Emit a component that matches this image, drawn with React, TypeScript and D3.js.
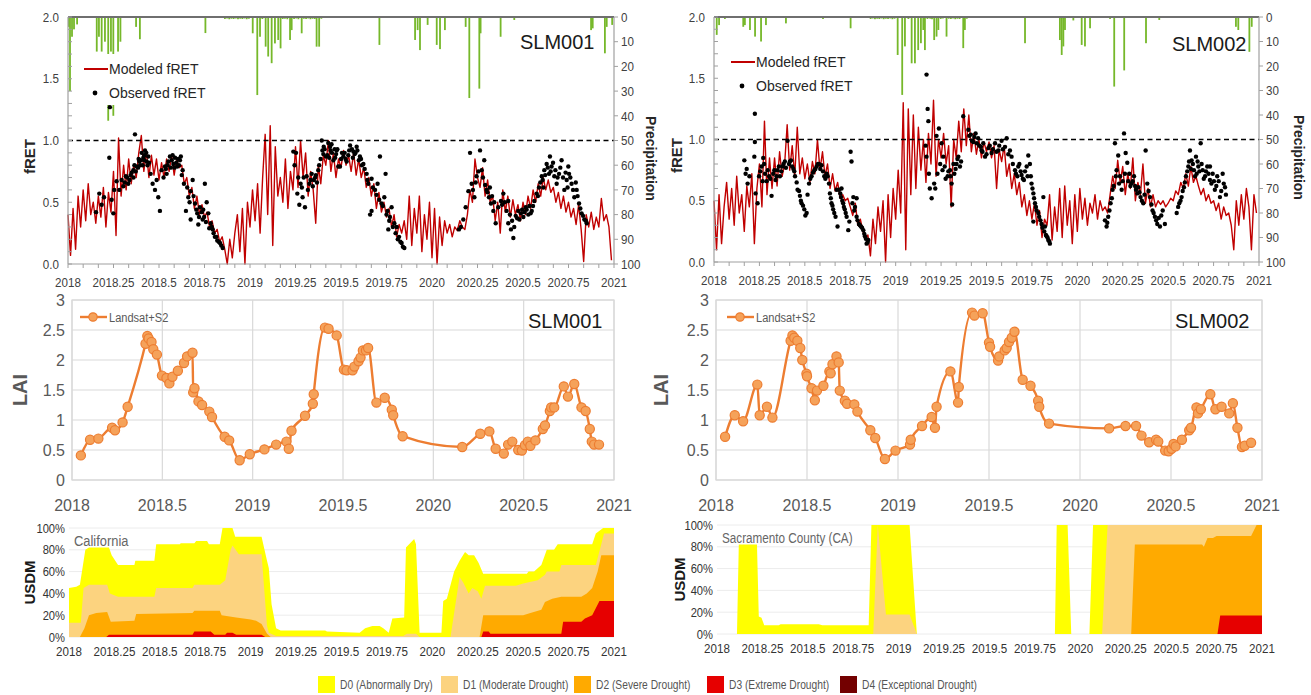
import React from 'react';
import * as d3 from 'd3';

// ---------------- fRET, modeled (5-day steps, six per month, Jan 2018 – Dec 2020) ----------------
const modeledSLM001: number[] = [
  0.40, 0.07, 0.45, 0.12, 0.55, 0.30, 0.60, 0.35, 0.65, 0.40, 0.50, 0.33,
  0.55, 0.38, 0.62, 0.30, 0.58, 0.42, 0.75, 0.23, 1.02, 0.55, 0.80, 0.60,
  0.85, 0.65, 0.80, 0.70, 0.90, 1.04, 0.75, 0.92, 0.70, 0.88, 0.72, 0.85,
  0.68, 0.82, 0.70, 0.85, 0.75, 0.88, 0.72, 0.85, 0.78, 0.80, 0.65, 0.70,
  0.55, 0.62, 0.45, 0.55, 0.40, 0.48, 0.38, 0.42, 0.30, 0.35, 0.25, 0.28,
  0.18, 0.22, 0.12, 0.00, 0.20, 0.05, 0.25, 0.40, 0.10, 0.45, 0.00, 0.50,
  0.30, 0.60, 0.35, 0.65, 0.25, 0.70, 1.05, 0.40, 1.12, 0.15, 0.95, 0.55,
  0.70, 0.50, 0.85, 0.45, 0.75, 0.60, 0.95, 0.62, 1.00, 0.70, 0.90, 0.55,
  0.75, 0.60, 0.33, 0.80, 0.65, 0.88, 0.80, 1.00, 0.75, 0.90, 0.70, 0.85,
  0.78, 0.92, 0.80, 0.88, 0.75, 0.90, 0.72, 0.85, 0.70, 0.78, 0.62, 0.70,
  0.55, 0.65, 0.45, 0.58, 0.42, 0.50, 0.38, 0.45, 0.30, 0.40, 0.22, 0.32,
  0.25, 0.35, 0.20, 0.55, 0.15, 0.45, 0.25, 0.55, 0.10, 0.40, 0.20, 0.50,
  0.05, 0.45, 0.00, 0.38, 0.15, 0.35, 0.25, 0.32, 0.22, 0.30, 0.27, 0.35,
  0.30, 0.28, 0.40, 0.60, 0.50, 0.85, 0.70, 0.62, 0.78, 0.55, 0.68, 0.50,
  0.55, 0.35, 0.50, 0.25, 0.60, 0.42, 0.55, 0.38, 0.52, 0.40, 0.48, 0.35,
  0.50, 0.40, 0.55, 0.45, 0.60, 0.50, 0.65, 0.55, 0.70, 0.60, 0.68, 0.58,
  0.62, 0.50, 0.58, 0.45, 0.55, 0.42, 0.50, 0.38, 0.45, 0.32, 0.48, 0.28,
  0.02, 0.40, 0.30, 0.42, 0.28, 0.38, 0.30, 0.53, 0.35, 0.40, 0.30, 0.03,
];

const modeledSLM002: number[] = [
  0.50, 0.10, 0.55, 0.15, 0.45, 0.65, 0.35, 0.60, 0.30, 0.70, 0.40, 0.55,
  0.25, 0.62, 0.45, 0.72, 0.15, 0.60, 0.80, 0.45, 1.15, 0.55, 0.85, 0.60,
  0.85, 0.62, 0.90, 0.70, 0.80, 1.12, 0.75, 0.95, 0.70, 1.10, 0.72, 0.85,
  0.68, 0.80, 0.65, 0.82, 0.72, 1.00, 0.75, 0.90, 0.70, 0.80, 0.60, 0.72,
  0.58, 0.65, 0.52, 0.55, 0.50, 0.52, 0.45, 0.38, 0.48, 0.30, 0.35, 0.25,
  0.20, 0.22, 0.05, 0.35, 0.15, 0.45, 0.25, 0.50, 0.00, 0.55, 0.20, 0.60,
  0.35, 0.75, 0.40, 1.30, 0.10, 1.25, 0.55, 1.20, 0.60, 1.10, 0.75, 1.00,
  0.65, 1.05, 0.80, 1.32, 0.70, 1.00, 0.85, 1.05, 0.80, 0.95, 0.45, 1.00,
  0.85, 1.15, 0.90, 1.25, 0.95, 1.20, 0.90, 1.05, 0.88, 1.00, 0.85, 0.98,
  0.90, 0.98, 0.85, 0.95, 0.60, 0.92, 0.82, 0.95, 0.70, 0.80, 0.60, 0.72,
  0.55, 0.65, 0.45, 0.55, 0.38, 0.50, 0.35, 0.48, 0.30, 0.42, 0.20, 0.35,
  0.30, 0.55, 0.18, 0.45, 0.25, 0.60, 0.20, 0.62, 0.30, 0.50, 0.15, 0.55,
  0.25, 0.60, 0.35, 0.52, 0.30, 0.48, 0.40, 0.55, 0.35, 0.50, 0.42, 0.45,
  0.40, 0.55, 0.70, 0.60, 0.83, 0.65, 0.78, 0.55, 0.72, 0.60, 0.85, 0.50,
  0.65, 0.55, 0.80, 0.48, 0.60, 0.45, 0.55, 0.45, 0.50, 0.47, 0.50, 0.45,
  0.48, 0.52, 0.50, 0.58, 0.55, 0.65, 0.60, 0.72, 0.62, 0.78, 0.65, 0.70,
  0.62, 0.55, 0.60, 0.50, 0.55, 0.48, 0.50, 0.42, 0.48, 0.35, 0.45, 0.38,
  0.40, 0.30, 0.10, 0.50, 0.30, 0.55, 0.35, 0.60, 0.45, 0.10, 0.55, 0.40,
];

// ---------------- fRET, observed [decimal year, fRET] ----------------
const observedSLM001: [number, number][] = [
  [2018.154, 0.42], [2018.172, 0.57], [2018.185, 0.48], [2018.198, 0.54], [2018.227, 0.86], [2018.23, 1.27],
  [2018.24, 0.52], [2018.249, 0.41], [2018.254, 0.60], [2018.267, 0.67], [2018.282, 0.60], [2018.295, 0.68],
  [2018.304, 0.63], [2018.318, 0.71], [2018.331, 0.65], [2018.344, 0.72], [2018.359, 0.76], [2018.368, 1.05],
  [2018.377, 0.79], [2018.392, 0.83], [2018.405, 0.90], [2018.414, 0.86], [2018.423, 0.92], [2018.432, 0.83],
  [2018.441, 0.87], [2018.36, 0.70], [2018.385, 0.78], [2018.40, 0.84], [2018.41, 0.80], [2018.42, 0.88],
  [2018.43, 0.90], [2018.454, 0.73], [2018.465, 0.65], [2018.478, 0.60], [2018.487, 0.68], [2018.496, 0.54],
  [2018.505, 0.43], [2018.514, 0.76], [2018.533, 0.79], [2018.542, 0.73], [2018.551, 0.83], [2018.56, 0.87],
  [2018.57, 0.84], [2018.579, 0.81], [2018.588, 0.86], [2018.595, 0.82], [2018.60, 0.79], [2018.605, 0.85],
  [2018.615, 0.84], [2018.63, 0.76], [2018.637, 0.65], [2018.648, 0.43], [2018.661, 0.54], [2018.674, 0.36],
  [2018.674, 0.59], [2018.685, 0.68], [2018.698, 0.49], [2018.71, 0.41], [2018.716, 0.32], [2018.725, 0.46],
  [2018.74, 0.36], [2018.743, 0.44], [2018.752, 0.65], [2018.762, 0.50], [2018.771, 0.41], [2018.776, 0.29],
  [2018.784, 0.33], [2018.795, 0.28], [2018.807, 0.22], [2018.82, 0.19], [2018.835, 0.17], [2018.85, 0.13],
  [2018.312, 0.66], [2018.325, 0.70], [2018.338, 0.68], [2018.35, 0.74], [2018.365, 0.80], [2018.372, 0.75],
  [2018.388, 0.85], [2018.396, 0.80], [2018.418, 0.84], [2018.437, 0.80], [2018.445, 0.82], [2018.525, 0.70],
  [2018.538, 0.77], [2018.547, 0.80], [2018.565, 0.78], [2018.575, 0.88], [2018.585, 0.78], [2018.61, 0.80],
  [2018.62, 0.87], [2018.625, 0.72], [2018.655, 0.62], [2018.668, 0.50], [2018.69, 0.55], [2018.705, 0.44],
  [2018.72, 0.38], [2018.735, 0.42], [2018.748, 0.38], [2018.758, 0.34], [2018.79, 0.30], [2018.80, 0.25],
  [2018.815, 0.22], [2018.828, 0.18], [2018.842, 0.15],
  [2019.238, 0.91], [2019.253, 0.90], [2019.26, 0.57], [2019.271, 0.48], [2019.278, 0.65], [2019.289, 0.54],
  [2019.302, 0.46], [2019.311, 0.71], [2019.326, 0.65], [2019.339, 0.73], [2019.351, 0.68], [2019.362, 0.72],
  [2019.375, 0.76], [2019.394, 1.00], [2019.403, 0.89], [2019.41, 0.93], [2019.417, 0.87], [2019.425, 0.88],
  [2019.43, 0.98], [2019.44, 0.95], [2019.443, 0.92], [2019.45, 0.90], [2019.458, 0.84], [2019.465, 0.93],
  [2019.473, 0.89], [2019.476, 0.92], [2019.485, 0.79], [2019.494, 0.79], [2019.50, 0.85], [2019.513, 0.87],
  [2019.52, 0.90], [2019.531, 0.83], [2019.54, 0.88], [2019.55, 0.96], [2019.56, 0.93], [2019.568, 0.91],
  [2019.575, 0.89], [2019.586, 0.95], [2019.59, 0.92], [2019.604, 0.87], [2019.61, 0.85], [2019.623, 0.81],
  [2019.641, 0.73], [2019.65, 0.65], [2019.66, 0.40], [2019.668, 0.69], [2019.668, 0.43], [2019.687, 0.60],
  [2019.701, 0.65], [2019.714, 0.87], [2019.723, 0.49], [2019.738, 0.54], [2019.745, 0.73], [2019.756, 0.43],
  [2019.76, 0.28], [2019.769, 0.38], [2019.778, 0.46], [2019.793, 0.33], [2019.806, 0.30], [2019.819, 0.22],
  [2019.833, 0.17], [2019.848, 0.13],
  [2019.245, 0.80], [2019.265, 0.70], [2019.285, 0.62], [2019.295, 0.70], [2019.318, 0.60], [2019.332, 0.68],
  [2019.345, 0.63], [2019.358, 0.70], [2019.368, 0.66], [2019.38, 0.80], [2019.388, 0.85], [2019.398, 0.92],
  [2019.405, 0.95], [2019.435, 0.86], [2019.448, 0.97], [2019.468, 0.86], [2019.48, 0.93], [2019.505, 0.90],
  [2019.525, 0.85], [2019.545, 0.92], [2019.565, 0.86], [2019.58, 0.90], [2019.598, 0.84], [2019.615, 0.80],
  [2019.63, 0.77], [2019.645, 0.68], [2019.675, 0.62], [2019.695, 0.56], [2019.71, 0.52], [2019.73, 0.47],
  [2019.75, 0.40], [2019.765, 0.35], [2019.785, 0.30], [2019.80, 0.25], [2019.812, 0.20], [2019.826, 0.18],
  [2019.84, 0.14],
  [2020.148, 0.28], [2020.159, 0.30], [2020.172, 0.36], [2020.185, 0.46], [2020.20, 0.59], [2020.209, 0.90],
  [2020.218, 0.65], [2020.233, 0.54], [2020.245, 0.71], [2020.264, 0.92], [2020.273, 0.76], [2020.287, 0.84],
  [2020.30, 0.60], [2020.313, 0.54], [2020.324, 0.49], [2020.337, 0.43], [2020.35, 0.33], [2020.364, 0.46],
  [2020.379, 0.51], [2020.392, 0.57], [2020.41, 0.43], [2020.419, 0.33], [2020.419, 0.51], [2020.434, 0.28],
  [2020.447, 0.21], [2020.46, 0.39], [2020.474, 0.43], [2020.489, 0.41], [2020.502, 0.38], [2020.515, 0.46],
  [2020.529, 0.40], [2020.548, 0.43], [2020.562, 0.51], [2020.575, 0.57], [2020.588, 0.62], [2020.603, 0.71],
  [2020.612, 0.62], [2020.617, 0.76], [2020.63, 0.81], [2020.643, 0.73], [2020.648, 0.87], [2020.657, 0.79],
  [2020.672, 0.71], [2020.685, 0.65], [2020.698, 0.73], [2020.712, 0.84], [2020.727, 0.60], [2020.74, 0.68],
  [2020.749, 0.79], [2020.753, 0.73], [2020.767, 0.65], [2020.782, 0.54], [2020.795, 0.60], [2020.808, 0.49],
  [2020.822, 0.41], [2020.837, 0.36], [2020.85, 0.33],
  [2020.225, 0.60], [2020.24, 0.66], [2020.255, 0.75], [2020.28, 0.70], [2020.292, 0.64], [2020.305, 0.58],
  [2020.318, 0.62], [2020.33, 0.55], [2020.342, 0.50], [2020.385, 0.48], [2020.40, 0.50], [2020.428, 0.40],
  [2020.44, 0.35], [2020.452, 0.30], [2020.468, 0.37], [2020.48, 0.36], [2020.495, 0.44], [2020.508, 0.42],
  [2020.52, 0.44], [2020.535, 0.47], [2020.542, 0.41], [2020.555, 0.47], [2020.582, 0.55], [2020.595, 0.66],
  [2020.608, 0.68], [2020.622, 0.72], [2020.636, 0.78], [2020.652, 0.75], [2020.665, 0.82], [2020.678, 0.76],
  [2020.69, 0.70], [2020.705, 0.78], [2020.72, 0.70], [2020.734, 0.74], [2020.745, 0.62], [2020.76, 0.70],
  [2020.775, 0.60], [2020.79, 0.66], [2020.80, 0.55], [2020.815, 0.45], [2020.83, 0.39], [2020.845, 0.35],
];

const observedSLM002: [number, number][] = [
  [2018.167, 0.83], [2018.174, 0.72], [2018.185, 0.64], [2018.225, 1.21], [2018.225, 0.98], [2018.222, 0.86],
  [2018.229, 0.56], [2018.24, 0.48], [2018.248, 0.70], [2018.262, 0.78], [2018.271, 0.85], [2018.281, 0.72],
  [2018.29, 0.66], [2018.303, 0.70], [2018.317, 0.54], [2018.326, 0.72], [2018.339, 0.67], [2018.35, 0.75],
  [2018.363, 0.70], [2018.376, 0.78], [2018.39, 0.82], [2018.405, 0.99], [2018.413, 0.80], [2018.424, 0.83],
  [2018.437, 0.76], [2018.446, 0.70], [2018.46, 0.59], [2018.473, 0.54], [2018.482, 0.48], [2018.497, 0.43],
  [2018.51, 0.40], [2018.523, 0.64], [2018.537, 0.70], [2018.552, 0.75], [2018.565, 0.78], [2018.578, 0.80],
  [2018.592, 0.79], [2018.607, 0.70], [2018.62, 0.72], [2018.633, 0.64], [2018.638, 0.56], [2018.647, 0.48],
  [2018.656, 0.43], [2018.669, 0.37], [2018.675, 0.59], [2018.68, 0.29], [2018.688, 0.59], [2018.699, 0.53],
  [2018.702, 0.60], [2018.711, 0.48], [2018.72, 0.43], [2018.73, 0.37], [2018.739, 0.26], [2018.752, 0.90],
  [2018.757, 0.82], [2018.767, 0.53], [2018.776, 0.45], [2018.785, 0.37], [2018.785, 0.52], [2018.798, 0.31],
  [2018.809, 0.29], [2018.822, 0.26], [2018.831, 0.21], [2018.84, 0.15], [2018.849, 0.18],
  [2018.18, 0.76], [2018.195, 0.70], [2018.255, 0.74], [2018.268, 0.66], [2018.276, 0.80], [2018.296, 0.75],
  [2018.31, 0.68], [2018.332, 0.75], [2018.344, 0.70], [2018.357, 0.78], [2018.37, 0.74], [2018.383, 0.80],
  [2018.396, 0.77], [2018.418, 0.82], [2018.43, 0.78], [2018.442, 0.74], [2018.455, 0.65], [2018.468, 0.58],
  [2018.478, 0.50], [2018.49, 0.46], [2018.503, 0.38], [2018.515, 0.55], [2018.53, 0.68], [2018.545, 0.73],
  [2018.558, 0.76], [2018.572, 0.80], [2018.585, 0.76], [2018.60, 0.74], [2018.613, 0.68], [2018.626, 0.70],
  [2018.643, 0.52], [2018.652, 0.46], [2018.662, 0.40], [2018.695, 0.56], [2018.706, 0.50], [2018.715, 0.45],
  [2018.725, 0.40], [2018.745, 0.33], [2018.762, 0.48], [2018.772, 0.42], [2018.79, 0.34], [2018.803, 0.30],
  [2018.815, 0.28], [2018.827, 0.23], [2018.836, 0.19], [2018.845, 0.16],
  [2019.165, 0.95], [2019.17, 1.53], [2019.17, 0.86], [2019.176, 1.25], [2019.18, 1.15], [2019.183, 0.72],
  [2019.188, 0.60], [2019.198, 0.52], [2019.212, 0.64], [2019.225, 1.03], [2019.238, 1.09], [2019.253, 0.97],
  [2019.262, 0.86], [2019.27, 0.78], [2019.286, 0.70], [2019.299, 0.75], [2019.308, 0.64], [2019.311, 0.47],
  [2019.323, 0.72], [2019.335, 0.80], [2019.345, 0.86], [2019.354, 0.78], [2019.372, 1.19], [2019.40, 1.08],
  [2019.414, 1.04], [2019.427, 0.98], [2019.44, 1.05], [2019.454, 1.01], [2019.469, 0.94], [2019.473, 0.91],
  [2019.482, 0.97], [2019.492, 0.86], [2019.51, 0.93], [2019.528, 0.89], [2019.547, 0.97], [2019.565, 0.91],
  [2019.583, 0.99], [2019.602, 0.94], [2019.611, 1.01], [2019.629, 0.91], [2019.638, 0.86], [2019.657, 0.75],
  [2019.67, 0.70], [2019.681, 0.80], [2019.693, 0.71], [2019.706, 0.67], [2019.721, 0.78], [2019.73, 0.87],
  [2019.739, 0.80], [2019.748, 0.64], [2019.758, 0.56], [2019.758, 0.33], [2019.767, 0.48], [2019.776, 0.42],
  [2019.79, 0.37], [2019.803, 0.31], [2019.813, 0.53], [2019.822, 0.29], [2019.831, 0.21], [2019.84, 0.18],
  [2019.849, 0.15],
  [2019.218, 0.60], [2019.23, 0.72], [2019.245, 0.80], [2019.258, 0.75], [2019.275, 0.68], [2019.29, 0.74],
  [2019.303, 0.70], [2019.318, 0.80], [2019.33, 0.76], [2019.34, 0.84], [2019.36, 0.82], [2019.405, 1.03],
  [2019.42, 0.99], [2019.433, 1.02], [2019.447, 0.97], [2019.46, 0.95], [2019.478, 0.90], [2019.50, 0.88],
  [2019.518, 0.95], [2019.535, 0.92], [2019.555, 0.90], [2019.57, 0.95], [2019.59, 0.92], [2019.62, 0.88],
  [2019.645, 0.80], [2019.662, 0.72], [2019.675, 0.78], [2019.688, 0.74], [2019.70, 0.68], [2019.712, 0.74],
  [2019.726, 0.70], [2019.744, 0.70], [2019.753, 0.60], [2019.762, 0.52], [2019.772, 0.45], [2019.785, 0.40],
  [2019.797, 0.34], [2019.808, 0.28], [2019.818, 0.25], [2019.827, 0.22], [2019.836, 0.20], [2019.845, 0.17],
  [2020.152, 0.34], [2020.161, 0.29], [2020.17, 0.37], [2020.183, 0.48], [2020.194, 0.59], [2020.207, 0.97],
  [2020.216, 0.75], [2020.225, 0.87], [2020.235, 0.70], [2020.244, 0.59], [2020.257, 1.05], [2020.266, 0.89],
  [2020.275, 0.81], [2020.286, 0.72], [2020.299, 0.64], [2020.312, 0.70], [2020.323, 0.59], [2020.336, 0.61],
  [2020.348, 0.53], [2020.363, 0.48], [2020.376, 0.91], [2020.385, 0.64], [2020.40, 0.53], [2020.414, 0.42],
  [2020.427, 0.37], [2020.44, 0.31], [2020.455, 0.29], [2020.47, 0.42], [2020.482, 0.31], [2020.547, 0.40],
  [2020.561, 0.48], [2020.574, 0.53], [2020.587, 0.61], [2020.598, 0.70], [2020.611, 0.78], [2020.62, 0.91],
  [2020.629, 0.83], [2020.642, 0.75], [2020.653, 0.86], [2020.657, 0.72], [2020.666, 0.78], [2020.679, 0.97],
  [2020.69, 0.75], [2020.703, 0.70], [2020.715, 0.78], [2020.73, 0.67], [2020.73, 0.78], [2020.745, 0.72],
  [2020.757, 0.59], [2020.77, 0.70], [2020.785, 0.53], [2020.80, 0.72], [2020.813, 0.61],
  [2020.165, 0.32], [2020.177, 0.42], [2020.19, 0.52], [2020.20, 0.62], [2020.212, 0.70], [2020.23, 0.64],
  [2020.25, 0.66], [2020.262, 0.72], [2020.28, 0.66], [2020.292, 0.62], [2020.305, 0.66], [2020.318, 0.62],
  [2020.33, 0.56], [2020.342, 0.57], [2020.355, 0.50], [2020.37, 0.55], [2020.392, 0.58], [2020.408, 0.47],
  [2020.42, 0.40], [2020.434, 0.34], [2020.448, 0.36], [2020.462, 0.38], [2020.555, 0.45], [2020.568, 0.50],
  [2020.58, 0.58], [2020.592, 0.65], [2020.605, 0.74], [2020.615, 0.82], [2020.625, 0.76], [2020.636, 0.80],
  [2020.648, 0.70], [2020.662, 0.82], [2020.672, 0.74], [2020.684, 0.80], [2020.696, 0.68], [2020.708, 0.74],
  [2020.722, 0.72], [2020.738, 0.64], [2020.752, 0.66], [2020.765, 0.62], [2020.778, 0.66], [2020.792, 0.58],
  [2020.806, 0.64], [2020.818, 0.55],
];

// ---------------- daily precipitation, mm [decimal year, mm] ----------------
const precipSLM001: [number, number][] = [
  [2018.005, 4], [2018.011, 30], [2018.022, 8], [2018.033, 5], [2018.05, 3],
  [2018.158, 14], [2018.17, 8], [2018.185, 14], [2018.203, 10], [2018.221, 42], [2018.236, 14],
  [2018.249, 40], [2018.275, 14], [2018.288, 10], [2018.374, 4], [2018.395, 9], [2018.755, 6.5],
  [2018.862, 0.8], [2018.874, 0.6], [2018.886, 0.9], [2018.898, 0.7], [2018.91, 0.8], [2018.922, 0.6],
  [2018.934, 0.9], [2018.946, 0.7], [2018.958, 0.8], [2018.97, 0.6], [2018.982, 0.9], [2018.994, 0.7],
  [2019.015, 6.6], [2019.04, 31.6], [2019.055, 8], [2019.068, 0.8], [2019.086, 12], [2019.1, 16],
  [2019.119, 18.7], [2019.137, 10.7], [2019.155, 9.3], [2019.168, 12.7], [2019.18, 0.8], [2019.192, 0.7],
  [2019.205, 0.9], [2019.22, 9.3], [2019.229, 5.3], [2019.242, 0.8], [2019.254, 0.6], [2019.266, 0.9],
  [2019.284, 6.6], [2019.296, 0.7], [2019.308, 0.8], [2019.32, 0.6], [2019.332, 0.9], [2019.344, 0.7],
  [2019.356, 0.8], [2019.366, 12], [2019.38, 12], [2019.392, 0.7],
  [2019.711, 11.3], [2019.907, 9.3], [2019.921, 5.3], [2019.934, 13.4], [2019.976, 3.2], [2020.026, 11.3],
  [2020.044, 13], [2020.071, 5.3], [2020.185, 4], [2020.205, 32.8], [2020.26, 29], [2020.267, 6.6],
  [2020.377, 8], [2020.452, 1.2], [2020.874, 5.3], [2020.883, 4.6], [2020.95, 14.7], [2020.96, 4],
  [2020.99, 3.2],
];

const precipSLM002: [number, number][] = [
  [2018.015, 7.3], [2018.028, 3.3], [2018.06, 0.8], [2018.161, 4], [2018.17, 3.3], [2018.198, 5.3],
  [2018.226, 8], [2018.259, 10], [2018.286, 3.3], [2018.396, 2.6], [2018.60, 0.8], [2018.752, 4.6],
  [2018.862, 0.8], [2018.874, 0.6], [2018.886, 0.9], [2018.898, 0.7], [2018.91, 0.8], [2018.922, 0.6],
  [2018.934, 0.9], [2018.946, 0.7], [2018.958, 0.8], [2018.97, 0.6], [2018.982, 0.9], [2018.994, 0.7],
  [2019.011, 15.5], [2019.036, 31.8], [2019.051, 12], [2019.07, 0.8], [2019.088, 18.9], [2019.106, 18.9],
  [2019.124, 13.5], [2019.139, 10.7], [2019.152, 5.3], [2019.161, 13.5], [2019.175, 0.8], [2019.19, 0.7],
  [2019.2, 0.9], [2019.212, 9.4], [2019.225, 8], [2019.235, 5.3], [2019.248, 0.8], [2019.26, 0.6],
  [2019.28, 8], [2019.292, 0.7], [2019.304, 0.8], [2019.316, 0.6], [2019.328, 0.9], [2019.34, 0.7],
  [2019.352, 0.8], [2019.372, 12.7], [2019.381, 5.3], [2019.392, 0.7],
  [2019.712, 10.7], [2019.904, 9.4], [2019.914, 15.5], [2019.923, 12], [2019.932, 5.3], [2019.978, 1.4],
  [2020.024, 11.4], [2020.042, 12], [2020.07, 4.6], [2020.18, 0.8], [2020.203, 28.4], [2020.258, 21.8],
  [2020.378, 10.7], [2020.451, 1.2], [2020.873, 4], [2020.886, 5.3], [2020.947, 14.2], [2020.96, 4],
];

// ---------------- LAI, Landsat+S2 [decimal year, LAI] ----------------
const laiSLM001: [number, number][] = [
  [2018.049, 0.41], [2018.10, 0.67], [2018.146, 0.69], [2018.222, 0.87], [2018.238, 0.83], [2018.28, 0.96],
  [2018.308, 1.22], [2018.407, 2.27], [2018.417, 2.40], [2018.424, 2.36], [2018.44, 2.30], [2018.45, 2.18],
  [2018.47, 2.09], [2018.498, 1.74], [2018.523, 1.70], [2018.539, 1.61], [2018.556, 1.72], [2018.586, 1.82],
  [2018.62, 1.95], [2018.637, 2.06], [2018.667, 2.12], [2018.671, 1.46], [2018.678, 1.53], [2018.70, 1.31],
  [2018.72, 1.25], [2018.76, 1.14], [2018.775, 1.05], [2018.845, 0.72], [2018.87, 0.66], [2018.928, 0.33],
  [2018.984, 0.43], [2019.065, 0.51], [2019.13, 0.59], [2019.187, 0.64], [2019.20, 0.52], [2019.215, 0.82],
  [2019.29, 1.07], [2019.333, 1.27], [2019.338, 1.43], [2019.40, 2.54], [2019.42, 2.52], [2019.465, 2.41],
  [2019.505, 1.84], [2019.52, 1.83], [2019.553, 1.83], [2019.563, 1.89], [2019.586, 1.98], [2019.597, 2.04],
  [2019.61, 2.16], [2019.627, 2.16], [2019.639, 2.20], [2019.685, 1.29], [2019.731, 1.37], [2019.77, 1.17],
  [2019.778, 1.08], [2019.83, 0.73], [2020.16, 0.55], [2020.26, 0.77], [2020.31, 0.81], [2020.345, 0.52],
  [2020.39, 0.44], [2020.414, 0.59], [2020.437, 0.64], [2020.47, 0.50], [2020.49, 0.49], [2020.507, 0.58],
  [2020.523, 0.64], [2020.537, 0.57], [2020.565, 0.66], [2020.606, 0.85], [2020.618, 0.91], [2020.645, 1.15],
  [2020.652, 1.21], [2020.669, 1.21], [2020.722, 1.56], [2020.745, 1.39], [2020.78, 1.60], [2020.82, 1.21],
  [2020.843, 1.15], [2020.866, 0.85], [2020.877, 0.64], [2020.89, 0.59], [2020.917, 0.59],
];

const laiSLM002: [number, number][] = [
  [2018.05, 0.72], [2018.103, 1.08], [2018.149, 0.98], [2018.227, 1.59], [2018.24, 1.08], [2018.28, 1.22],
  [2018.31, 1.04], [2018.41, 2.32], [2018.42, 2.41], [2018.43, 2.37], [2018.447, 2.32], [2018.463, 2.20],
  [2018.474, 2.00], [2018.497, 1.77], [2018.50, 1.73], [2018.525, 1.53], [2018.543, 1.33], [2018.555, 1.49],
  [2018.59, 1.57], [2018.623, 1.81], [2018.63, 1.78], [2018.64, 1.93], [2018.662, 2.06], [2018.674, 1.96],
  [2018.68, 1.49], [2018.708, 1.32], [2018.72, 1.27], [2018.76, 1.26], [2018.777, 1.14], [2018.848, 0.83],
  [2018.875, 0.70], [2018.928, 0.35], [2018.986, 0.49], [2019.066, 0.59], [2019.07, 0.67], [2019.132, 0.90],
  [2019.185, 1.05], [2019.203, 0.87], [2019.212, 1.22], [2019.288, 1.81], [2019.33, 1.29], [2019.334, 1.55],
  [2019.407, 2.79], [2019.42, 2.74], [2019.465, 2.78], [2019.50, 2.29], [2019.506, 2.22], [2019.55, 1.99],
  [2019.556, 2.06], [2019.586, 2.16], [2019.597, 2.20], [2019.61, 2.30], [2019.625, 2.37], [2019.64, 2.47],
  [2019.685, 1.67], [2019.728, 1.57], [2019.77, 1.32], [2019.776, 1.22], [2019.83, 0.94], [2020.16, 0.86],
  [2020.25, 0.90], [2020.308, 0.90], [2020.338, 0.74], [2020.38, 0.63], [2020.418, 0.67], [2020.43, 0.64],
  [2020.468, 0.49], [2020.487, 0.48], [2020.503, 0.52], [2020.514, 0.60], [2020.525, 0.56], [2020.56, 0.67],
  [2020.60, 0.83], [2020.61, 0.87], [2020.64, 1.21], [2020.648, 1.11], [2020.664, 1.18], [2020.716, 1.43],
  [2020.744, 1.18], [2020.778, 1.22], [2020.82, 1.11], [2020.84, 1.28], [2020.865, 0.87], [2020.89, 0.55],
  [2020.905, 0.57], [2020.94, 0.62],
];

// ---------------- US Drought Monitor, cumulative % area [decimal year, %] ----------------
const caD0: [number, number][] = [
  [2018.0, 45], [2018.04, 46], [2018.06, 48], [2018.09, 80], [2018.11, 82], [2018.22, 82], [2018.235, 75],
  [2018.27, 66], [2018.36, 66], [2018.365, 70], [2018.47, 70], [2018.48, 85], [2018.61, 85], [2018.615, 86],
  [2018.69, 86], [2018.70, 88], [2018.76, 88], [2018.77, 85], [2018.83, 85], [2018.845, 100], [2018.90, 100],
  [2018.915, 92], [2019.06, 92], [2019.09, 70], [2019.10, 63], [2019.115, 30], [2019.14, 8], [2019.165, 6],
  [2019.41, 6], [2019.42, 5], [2019.60, 4], [2019.63, 8], [2019.67, 10], [2019.71, 10], [2019.73, 8],
  [2019.76, 4], [2019.78, 17], [2019.845, 18], [2019.855, 82], [2019.90, 90], [2019.91, 85], [2019.93, 4],
  [2020.05, 4], [2020.06, 33], [2020.08, 35], [2020.12, 60], [2020.15, 70], [2020.18, 78], [2020.20, 75],
  [2020.23, 75], [2020.255, 68], [2020.28, 58], [2020.52, 58], [2020.53, 60], [2020.56, 60], [2020.60, 66],
  [2020.63, 80], [2020.67, 80], [2020.69, 85], [2020.88, 85], [2020.90, 95], [2020.94, 100], [2021.0, 100],
];
const caD1: [number, number][] = [
  [2018.0, 13], [2018.065, 13], [2018.08, 45], [2018.11, 48], [2018.21, 48], [2018.225, 40], [2018.27, 37],
  [2018.47, 37], [2018.48, 45], [2018.68, 45], [2018.69, 48], [2018.83, 48], [2018.86, 52], [2018.89, 80],
  [2018.90, 84], [2018.935, 76], [2019.06, 76], [2019.09, 10], [2019.10, 4], [2019.14, 1], [2019.84, 1],
  [2019.86, 3], [2019.91, 3], [2019.93, 0], [2020.10, 0], [2020.15, 55], [2020.17, 50], [2020.20, 40],
  [2020.22, 45], [2020.25, 42], [2020.27, 35], [2020.29, 47], [2020.46, 47], [2020.50, 49], [2020.58, 52],
  [2020.62, 57], [2020.63, 60], [2020.70, 60], [2020.71, 66], [2020.90, 66], [2020.93, 85], [2020.945, 95],
  [2021.0, 95],
];
const caD2: [number, number][] = [
  [2018.0, 0], [2018.06, 0], [2018.085, 8], [2018.11, 20], [2018.15, 22], [2018.21, 23], [2018.23, 14],
  [2018.36, 15], [2018.37, 21], [2018.68, 22], [2018.69, 24], [2018.83, 24], [2018.84, 20], [2018.92, 18],
  [2019.0, 16], [2019.03, 15], [2019.06, 12], [2019.09, 3], [2019.11, 0], [2020.26, 0], [2020.28, 20],
  [2020.50, 20], [2020.54, 22], [2020.60, 25], [2020.62, 32], [2020.66, 35], [2020.71, 37], [2020.82, 37],
  [2020.85, 40], [2020.88, 45], [2020.91, 60], [2020.93, 75], [2021.0, 75],
];
const caD3: [number, number][] = [
  [2018.0, 0], [2018.205, 0], [2018.22, 2], [2018.68, 2], [2018.69, 5], [2018.78, 5], [2018.80, 2],
  [2018.86, 2], [2018.87, 4], [2018.90, 4], [2018.92, 2], [2019.06, 2], [2019.08, 0], [2020.27, 0],
  [2020.28, 5], [2020.31, 5], [2020.32, 3], [2020.71, 3], [2020.72, 14], [2020.82, 14], [2020.84, 17],
  [2020.88, 20], [2020.92, 33], [2021.0, 33],
];
const caD4: [number, number][] = [[2018.0, 0], [2021.0, 0]];

const sacD0: [number, number][] = [
  [2018.0, 0], [2018.11, 0], [2018.12, 82], [2018.22, 82], [2018.23, 16], [2018.245, 15], [2018.26, 8],
  [2018.34, 8], [2018.35, 9], [2018.56, 9], [2018.58, 8], [2018.835, 8], [2018.85, 100], [2019.06, 100],
  [2019.10, 0], [2019.86, 0], [2019.87, 100], [2019.93, 100], [2019.95, 0], [2020.05, 0], [2020.07, 100],
  [2021.0, 100],
];
const sacD1: [number, number][] = [
  [2018.0, 0], [2018.86, 0], [2018.885, 100], [2018.93, 18], [2019.06, 18], [2019.10, 0], [2020.12, 0],
  [2020.15, 100], [2021.0, 100],
];
const sacD2: [number, number][] = [
  [2018.0, 0], [2020.28, 0], [2020.30, 82], [2020.67, 82], [2020.68, 80], [2020.70, 88], [2020.73, 88],
  [2020.75, 90], [2020.94, 90], [2020.97, 100], [2021.0, 100],
];
const sacD3: [number, number][] = [[2018.0, 0], [2020.755, 0], [2020.77, 17], [2021.0, 17]];
const sacD4: [number, number][] = [[2018.0, 0], [2021.0, 0]];

// ---------------- ticks and labels ----------------
const fretTicks = [0, 0.5, 1, 1.5, 2];
const precipTicks = [0, 10, 20, 30, 40, 50, 60, 70, 80, 90, 100];
const quarterTicks = [2018, 2018.25, 2018.5, 2018.75, 2019, 2019.25, 2019.5, 2019.75, 2020, 2020.25, 2020.5, 2020.75, 2021];
const halfTicks = [2018, 2018.5, 2019, 2019.5, 2020, 2020.5, 2021];
const laiTicks = [0, 0.5, 1, 1.5, 2, 2.5, 3];
const pctTicks = [0, 20, 40, 60, 80, 100];
const droughtLabels = ['D0 (Abnormally Dry)', 'D1 (Moderate Drought)', 'D2 (Severe Drought)', 'D3 (Extreme Drought)', 'D4 (Exceptional Drought)'];
const droughtColors = ['#ffff00', '#fcd37f', '#ffaa00', '#e60000', '#730000'];

const SANS = "'Liberation Sans', Arial, sans-serif";
const fmtYear = (v: number) => String(+v.toFixed(2));

// Horizontally compressed text (narrow face look)
function NText(props: { x: number; y: number; size: number; anchor?: string; fill?: string; sx?: number; dy?: string; children: React.ReactNode }) {
  const { x, y, size, anchor = 'start', fill = '#333', sx = 0.86, dy, children } = props;
  return (
    <text transform={`translate(${x},${y}) scale(${sx},1)`} textAnchor={anchor as any} dy={dy}
      fontFamily={SANS} fontSize={size} fill={fill}>{children}</text>
  );
}

type FretProps = {
  x0: number; x1: number; y0: number; y1: number;
  modeled: number[]; observed: [number, number][]; precip: [number, number][];
  site: string; siteX: number; siteY: number; fretX: number; precipX: number;
  legX: number; legY: number;
};

function FretPanel(props: FretProps) {
  const { x0, x1, y0, y1, modeled, observed, precip, site, siteX, siteY, fretX, precipX, legX, legY } = props;
  const x = d3.scaleLinear().domain([2018, 2021]).range([x0, x1]);
  const y = d3.scaleLinear().domain([0, 2]).range([y1, y0]);
  const p = d3.scaleLinear().domain([0, 100]).range([y0, y1]);
  const step = 3 / modeled.length;
  const path = d3.line<number>().x((_, i) => x(2018 + i * step)).y((d) => y(d))(modeled) || '';
  const minor = d3.range(0, 20.5).map((k) => k / 10);
  const months = d3.range(0, 37).map((k) => 2018 + k / 12);
  const axisCol = '#a0a0a0';
  const midY = (y0 + y1) / 2;
  return (
    <g>
      {precip.map(([t, mm], i) => (
        <rect key={'p' + i} x={x(t) - 0.9} y={y0} width={1.8} height={p(mm) - y0} fill="#76b82a" />
      ))}
      <rect x={legX - 4} y={legY - 15} width={128} height={51} fill="#ffffff" />
      <path d={path} fill="none" stroke="#c00000" strokeWidth={1.4} strokeLinejoin="round" />
      {observed.map(([t, v], i) => (
        <circle key={'o' + i} cx={x(t)} cy={y(v)} r={2.2} fill="#000" />
      ))}
      <line x1={x0} x2={x1} y1={y(1)} y2={y(1)} stroke="#000" strokeWidth={1.5} strokeDasharray="5 3.5" />
      <line x1={x0} x2={x1} y1={y0} y2={y0} stroke="#6f6f6f" strokeWidth={1.8} />
      <line x1={x0} x2={x0} y1={y0} y2={y1} stroke={axisCol} strokeWidth={1.2} />
      <line x1={x1} x2={x1} y1={y0} y2={y1} stroke={axisCol} strokeWidth={1.2} />
      <line x1={x0} x2={x1} y1={y1} y2={y1} stroke={axisCol} strokeWidth={1.2} />
      {minor.map((v, i) => (
        <line key={'lt' + i} x1={x0} x2={x0 + 4} y1={y(v)} y2={y(v)} stroke={axisCol} />
      ))}
      {precipTicks.map((v, i) => (
        <line key={'rt' + i} x1={x1} x2={x1 + 4} y1={p(v)} y2={p(v)} stroke={axisCol} />
      ))}
      {months.map((t, i) => (
        <line key={'bt' + i} x1={x(t)} x2={x(t)} y1={y1} y2={y1 + 4} stroke={axisCol} />
      ))}
      {fretTicks.map((v) => (
        <NText key={'fl' + v} x={x0 - 9} y={y(v)} dy="0.35em" anchor="end" size={13.5} fill="#404040">{v.toFixed(1)}</NText>
      ))}
      {precipTicks.map((v) => (
        <NText key={'pl' + v} x={x1 + 7} y={p(v)} dy="0.35em" size={13.5} fill="#404040">{v}</NText>
      ))}
      {quarterTicks.map((t) => (
        <NText key={'xl' + t} x={x(t)} y={y1 + 23} anchor="middle" size={13.5} fill="#404040">{fmtYear(t)}</NText>
      ))}
      <text transform={`translate(${fretX},${midY + 16}) rotate(-90)`} textAnchor="middle" dy="0.35em" fontFamily={SANS} fontWeight="bold" fontSize={15} fill="#262626">fRET</text>
      <text transform={`translate(${precipX},${midY + 18}) rotate(90)`} textAnchor="middle" dy="0.35em" fontFamily={SANS} fontWeight="bold" fontSize={14} fill="#262626">Precipitation</text>
      <text x={siteX} y={siteY} fontFamily={SANS} fontSize={20} fill="#1a1a1a">{site}</text>
      <line x1={legX} x2={legX + 24} y1={legY} y2={legY} stroke="#c00000" strokeWidth={2} />
      <text x={legX + 25} y={legY} dy="0.35em" fontFamily={SANS} fontSize={14} fill="#262626">Modeled fRET</text>
      <circle cx={legX + 11} cy={legY + 24} r={2.4} fill="#000" />
      <text x={legX + 25} y={legY + 24} dy="0.35em" fontFamily={SANS} fontSize={14} fill="#262626">Observed fRET</text>
    </g>
  );
}

type LaiProps = {
  x0: number; x1: number; y0: number; y1: number; data: [number, number][];
  site: string; siteX: number; siteY: number; laiX: number; legX: number; legY: number;
};

function LaiPanel(props: LaiProps) {
  const { x0, x1, y0, y1, data, site, siteX, siteY, laiX, legX, legY } = props;
  const x = d3.scaleLinear().domain([2018, 2021]).range([x0, x1]);
  const y = d3.scaleLinear().domain([0, 3]).range([y1, y0]);
  const path = d3.line<[number, number]>().x((d) => x(d[0])).y((d) => y(d[1])).curve(d3.curveMonotoneX)(data) || '';
  const grid = '#d9d9d9';
  return (
    <g>
      {halfTicks.map((t) => (
        <line key={'gv' + t} x1={x(t)} x2={x(t)} y1={y0} y2={y1} stroke={grid} strokeWidth={1.2} />
      ))}
      {laiTicks.map((v) => (
        <line key={'gh' + v} x1={x0} x2={x1} y1={y(v)} y2={y(v)} stroke={grid} strokeWidth={1.2} />
      ))}
      <rect x={x0} y={y0} width={x1 - x0} height={y1 - y0} fill="none" stroke={grid} strokeWidth={1.2} />
      <path d={path} fill="none" stroke="#ed7d31" strokeWidth={2.4} />
      {data.map(([t, v], i) => (
        <circle key={'l' + i} cx={x(t)} cy={y(v)} r={4.6} fill="#f5a25a" stroke="#ed7d31" strokeWidth={1.2} />
      ))}
      {laiTicks.map((v) => (
        <text key={'yl' + v} x={x0 - 7} y={y(v)} dy="0.35em" textAnchor="end" fontFamily={SANS} fontSize={16} fill="#595959">{String(v)}</text>
      ))}
      {halfTicks.map((t) => (
        <text key={'xl' + t} x={x(t)} y={y1 + 31} textAnchor="middle" fontFamily={SANS} fontSize={16} fill="#595959">{fmtYear(t)}</text>
      ))}
      <text transform={`translate(${laiX},${(y0 + y1) / 2}) rotate(-90)`} textAnchor="middle" dy="0.35em" fontFamily={SANS} fontWeight="bold" fontSize={20} fill="#595959">LAI</text>
      <text x={siteX} y={siteY} fontFamily={SANS} fontSize={20} fill="#1a1a1a">{site}</text>
      <line x1={legX} x2={legX + 27} y1={legY} y2={legY} stroke="#ed7d31" strokeWidth={2.4} />
      <circle cx={legX + 13} cy={legY} r={4.2} fill="#f5a25a" stroke="#ed7d31" strokeWidth={1.2} />
      <NText x={legX + 29} y={legY} dy="0.35em" size={13.5} sx={0.82} fill="#595959">Landsat+S2</NText>
    </g>
  );
}

type UsdmProps = {
  x0: number; x1: number; y0: number; y1: number; layers: [number, number][][];
  region: string; regionX: number; regionY: number; usdmX: number; regionSx: number;
};

function UsdmPanel(props: UsdmProps) {
  const { x0, x1, y0, y1, layers, region, regionX, regionY, usdmX, regionSx } = props;
  const x = d3.scaleLinear().domain([2018, 2021]).range([x0, x1]);
  const y = d3.scaleLinear().domain([0, 100]).range([y1, y0]);
  const area = d3.area<[number, number]>().x((d) => x(d[0])).y0(y1).y1((d) => y(d[1]));
  return (
    <g>
      {pctTicks.map((v) => (
        <line key={'g' + v} x1={x0} x2={x1} y1={y(v)} y2={y(v)} stroke="#ececec" strokeWidth={1} />
      ))}
      {layers.map((layer, i) => (
        <path key={'a' + i} d={area(layer) || ''} fill={droughtColors[i]} />
      ))}
      {pctTicks.map((v) => (
        <NText key={'yl' + v} x={x0 - 4} y={y(v)} dy="0.35em" anchor="end" size={13} fill="#333">{v + '%'}</NText>
      ))}
      {quarterTicks.map((t) => (
        <NText key={'xl' + t} x={x(t)} y={y1 + 19} anchor="middle" size={13.5} fill="#333">{fmtYear(t)}</NText>
      ))}
      <text transform={`translate(${usdmX},${(y0 + y1) / 2}) rotate(-90)`} textAnchor="middle" dy="0.35em" fontFamily={SANS} fontWeight="bold" fontSize={15} fill="#1a1a1a">USDM</text>
      <NText x={regionX} y={regionY} size={15} sx={regionSx} fill="#666">{region}</NText>
    </g>
  );
}

export default function App() {
  const legendX = [318, 441, 574, 707, 840];
  return (
    <svg width={1311} height={695} style={{ position: 'absolute', left: 0, top: 0, background: '#fff' }}>
      <rect width={1311} height={695} fill="#fff" />
      <FretPanel x0={68} x1={614} y0={17} y1={264} modeled={modeledSLM001} observed={observedSLM001} precip={precipSLM001}
        site="SLM001" siteX={520} siteY={49} fretX={30} precipX={651} legX={84} legY={69} />
      <FretPanel x0={714} x1={1259} y0={17} y1={262} modeled={modeledSLM002} observed={observedSLM002} precip={precipSLM002}
        site="SLM002" siteX={1172} siteY={51} fretX={677} precipX={1299} legX={731} legY={62} />
      <LaiPanel x0={72} x1={614} y0={300} y1={480} data={laiSLM001} site="SLM001" siteX={528} siteY={328} laiX={20} legX={80} legY={317} />
      <LaiPanel x0={716} x1={1262} y0={300} y1={480} data={laiSLM002} site="SLM002" siteX={1175} siteY={328} laiX={661} legX={727} legY={317} />
      <UsdmPanel x0={69} x1={614} y0={528} y1={637} layers={[caD0, caD1, caD2, caD3, caD4]} region="California" regionX={74} regionY={546} usdmX={30} regionSx={0.86} />
      <UsdmPanel x0={717} x1={1262} y0={525} y1={634} layers={[sacD0, sacD1, sacD2, sacD3, sacD4]} region="Sacramento County (CA)" regionX={722} regionY={543} usdmX={680} regionSx={0.78} />
      {droughtLabels.map((label, i) => (
        <g key={'dl' + i}>
          <rect x={legendX[i]} y={676} width={17} height={17} fill={droughtColors[i]} />
          <NText x={legendX[i] + 22} y={685} dy="0.35em" size={12.5} sx={0.82} fill="#555">{label}</NText>
        </g>
      ))}
    </svg>
  );
}
